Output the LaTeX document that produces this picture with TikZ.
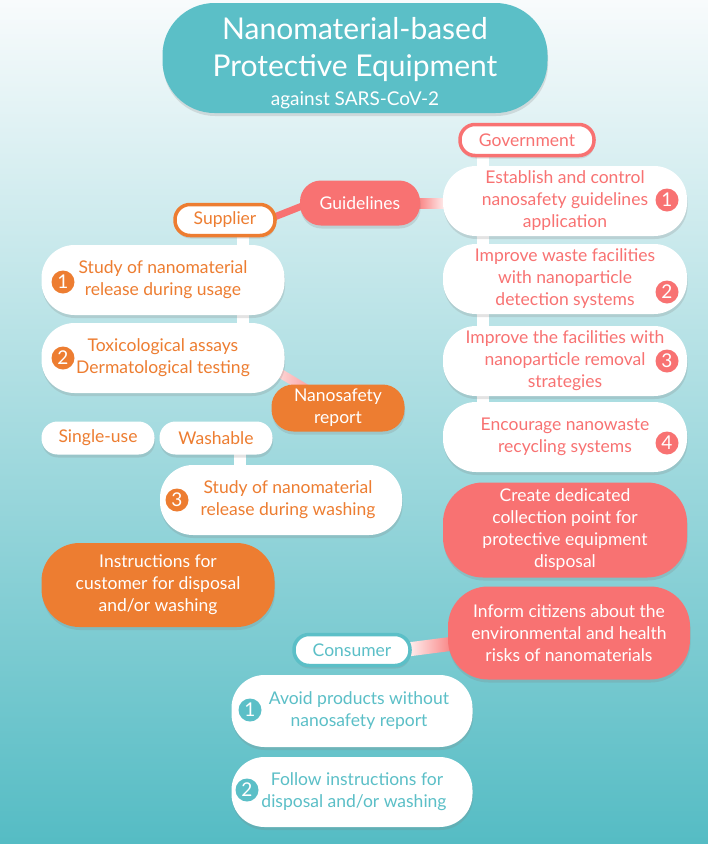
\documentclass[tikz,border=0pt]{standalone}
\usepackage{fontspec}
\setmainfont{Lato}
\usetikzlibrary{shadows,calc,backgrounds}
\definecolor{tealmain}{HTML}{5BBFC7}
\definecolor{govred}{HTML}{F87272}
\definecolor{suporange}{HTML}{ED7D31}
\definecolor{bgtop}{HTML}{F8FBFC}
\definecolor{bgmid}{HTML}{B3DEE1}
\definecolor{bgbot}{HTML}{55BCC4}
\newcommand{\boxfont}{\fontsize{17.5}{22}\selectfont}
\newcommand{\dotfont}{\fontsize{19}{19}\selectfont}
\pgfdeclarelayer{bg}
\pgfsetlayers{bg,background,main}
\tikzset{
  shadowed/.style={drop shadow={opacity=0.22,shadow xshift=0.6pt,shadow yshift=-3pt}},
  whitebox/.style={shadowed,fill=white,rounded corners=33pt,
                   minimum width=243pt,minimum height=70pt,
                   inner sep=0pt,align=center,font=\boxfont},
  fillbox/.style={shadowed,rounded corners=#1,text=white,
                  inner sep=0pt,align=center,font=\boxfont},
  rolebox/.style={shadowed,fill=white,draw=#1,line width=3.5pt,text=#1,
                  rounded corners=15pt,minimum height=31pt,
                  inner sep=0pt,font=\boxfont},
  smallpill/.style={shadowed,fill=white,text=suporange,rounded corners=16pt,
                    minimum width=113pt,minimum height=33pt,
                    inner sep=0pt,font=\boxfont},
  numdot/.style={circle,fill=#1,text=white,inner sep=0pt,
                 minimum size=23pt,font=\dotfont},
  whitelink/.style={draw=white,line width=12pt}
}
\begin{document}
\begin{tikzpicture}[x=1pt,y=-1pt]
  \useasboundingbox (0,0) rectangle (708,844);
  \begin{pgfonlayer}{bg}
    \shade[top color=bgtop,middle color=bgmid,bottom color=bgbot] (0,0) rectangle (708,844);
  \end{pgfonlayer}

  % title
  \node[fillbox=52pt,fill=tealmain,minimum width=385pt,minimum height=110pt,
        font=\fontsize{30}{37}\selectfont] (title) at (355,58)
    {\rule{0pt}{32pt}Nanomaterial-based\\Protective Equipment\\[-8pt]{\fontsize{19}{24}\selectfont against SARS-CoV-2}};

  % supplier side
  \node[rolebox=suporange,minimum width=100pt] (sup) at (225,220) {Supplier};
  \node[fillbox=21pt,fill=govred,minimum width=120pt,minimum height=45pt] (guid) at (360,203) {Guidelines};
  \node[whitebox,text=suporange] (s1) at (163,280) {Study of nanomaterial\\release during usage};
  \node[whitebox,text=suporange] (s2) at (163,358) {Toxicological assays\\Dermatological testing};
  \node[numdot=suporange] (sn1) at (63,282) {1};
  \node[numdot=suporange] (sn2) at (63,358) {2};
  \node[fillbox=22pt,fill=suporange,minimum width=133pt,minimum height=47pt] (nano) at (338,408) {Nanosafety\\report};
  \node[smallpill] (single) at (98,438) {Single-use};
  \node[smallpill] (wash) at (216,438) {Washable};
  \node[whitebox,text=suporange,minimum width=242pt] (s3) at (281,500) {\hspace*{14pt}Study of nanomaterial\\\hspace*{14pt}release during washing};
  \node[numdot=suporange] (sn3) at (177,500) {3};
  \node[fillbox=38pt,fill=suporange,minimum width=233pt,minimum height=84pt] (instr) at (158,585)
    {Instructions for\\customer for disposal\\and/or washing};

  % government side
  \node[rolebox=govred,minimum width=134pt] (gov) at (527,140) {Government};
  \foreach \k/\y/\ny/\txt in {1/201/200/{Establish and control\\nanosafety guidelines\\application},
                             2/279/292/{Improve waste facilities\\with nanoparticle\\detection systems},
                             3/361/361/{Improve the facilities with\\nanoparticle removal\\strategies},
                             4/437/443/{Encourage nanowaste\\recycling systems}} {
    \node[whitebox,text=govred,minimum width=244pt] (g\k) at (565,\y) {\txt};
    \node[numdot=govred] (gn\k) at (667,\ny) {\k};
  }
  \node[fillbox=40pt,fill=govred,minimum width=244pt,minimum height=95pt] (create) at (565,530)
    {Create dedicated\\collection point for\\protective equipment\\disposal};
  \node[fillbox=40pt,fill=govred,minimum width=242pt,minimum height=93pt] (inform) at (569,633)
    {Inform citizens about the\\environmental and health\\risks of nanomaterials};

  % consumer side
  \node[rolebox=tealmain,minimum width=116pt] (cons) at (352,650) {Consumer};
  \node[whitebox,text=tealmain,minimum width=241pt,minimum height=72pt] (c1) at (352,711)
    {\hspace*{14pt}Avoid products without\\\hspace*{14pt}nanosafety report};
  \node[whitebox,text=tealmain,minimum width=241pt] (c2) at (352,792)
    {\hspace*{10pt}Follow instructions for\\\hspace*{4pt}disposal and/or washing};
  \node[numdot=tealmain] (cn1) at (250,710) {1};
  \node[numdot=tealmain] (cn2) at (247,790) {2};

  % links
  \begin{pgfonlayer}{background}
    \coordinate (supx) at ($(sup.center)+(18,0)$);
    \draw[whitelink] (supx) -- (supx |- s2.center);
    \coordinate (govx) at ($(gov.center)+(-44,0)$);
    \draw[whitelink] (govx) -- (govx |- g4.center);
    \coordinate (washx) at ($(wash.center)+(24,0)$);
    \draw[whitelink] (washx) -- (washx |- s3.center);
    \draw[draw=govred,line width=7pt] ($(sup.east)+(-10,0)$) -- ($(guid.west)+(10,0)$);
    \shade[left color=govred,right color=white] ($(guid.east)+(-6,-5)$) rectangle ($(g1.west |- guid.east)+(6,5)$);
    \coordinate (na) at ($(s2.east)+(-30,0)$);
    \shade[left color=white,right color=govred] ($(na)!4.5pt!90:(nano.center)$) -- ($(nano.center)!4.5pt!-90:(na)$)
      -- ($(nano.center)!4.5pt!90:(na)$) -- ($(na)!4.5pt!-90:(nano.center)$) -- cycle;
    \coordinate (ca) at ($(cons.east)+(-8,0)$);
    \coordinate (cb) at ($(inform.west)+(10,10)$);
    \shade[left color=white,right color=govred] ($(ca)!7pt!90:(cb)$) -- ($(cb)!7pt!-90:(ca)$)
      -- ($(cb)!7pt!90:(ca)$) -- ($(ca)!7pt!-90:(cb)$) -- cycle;
  \end{pgfonlayer}
\end{tikzpicture}
\end{document}
